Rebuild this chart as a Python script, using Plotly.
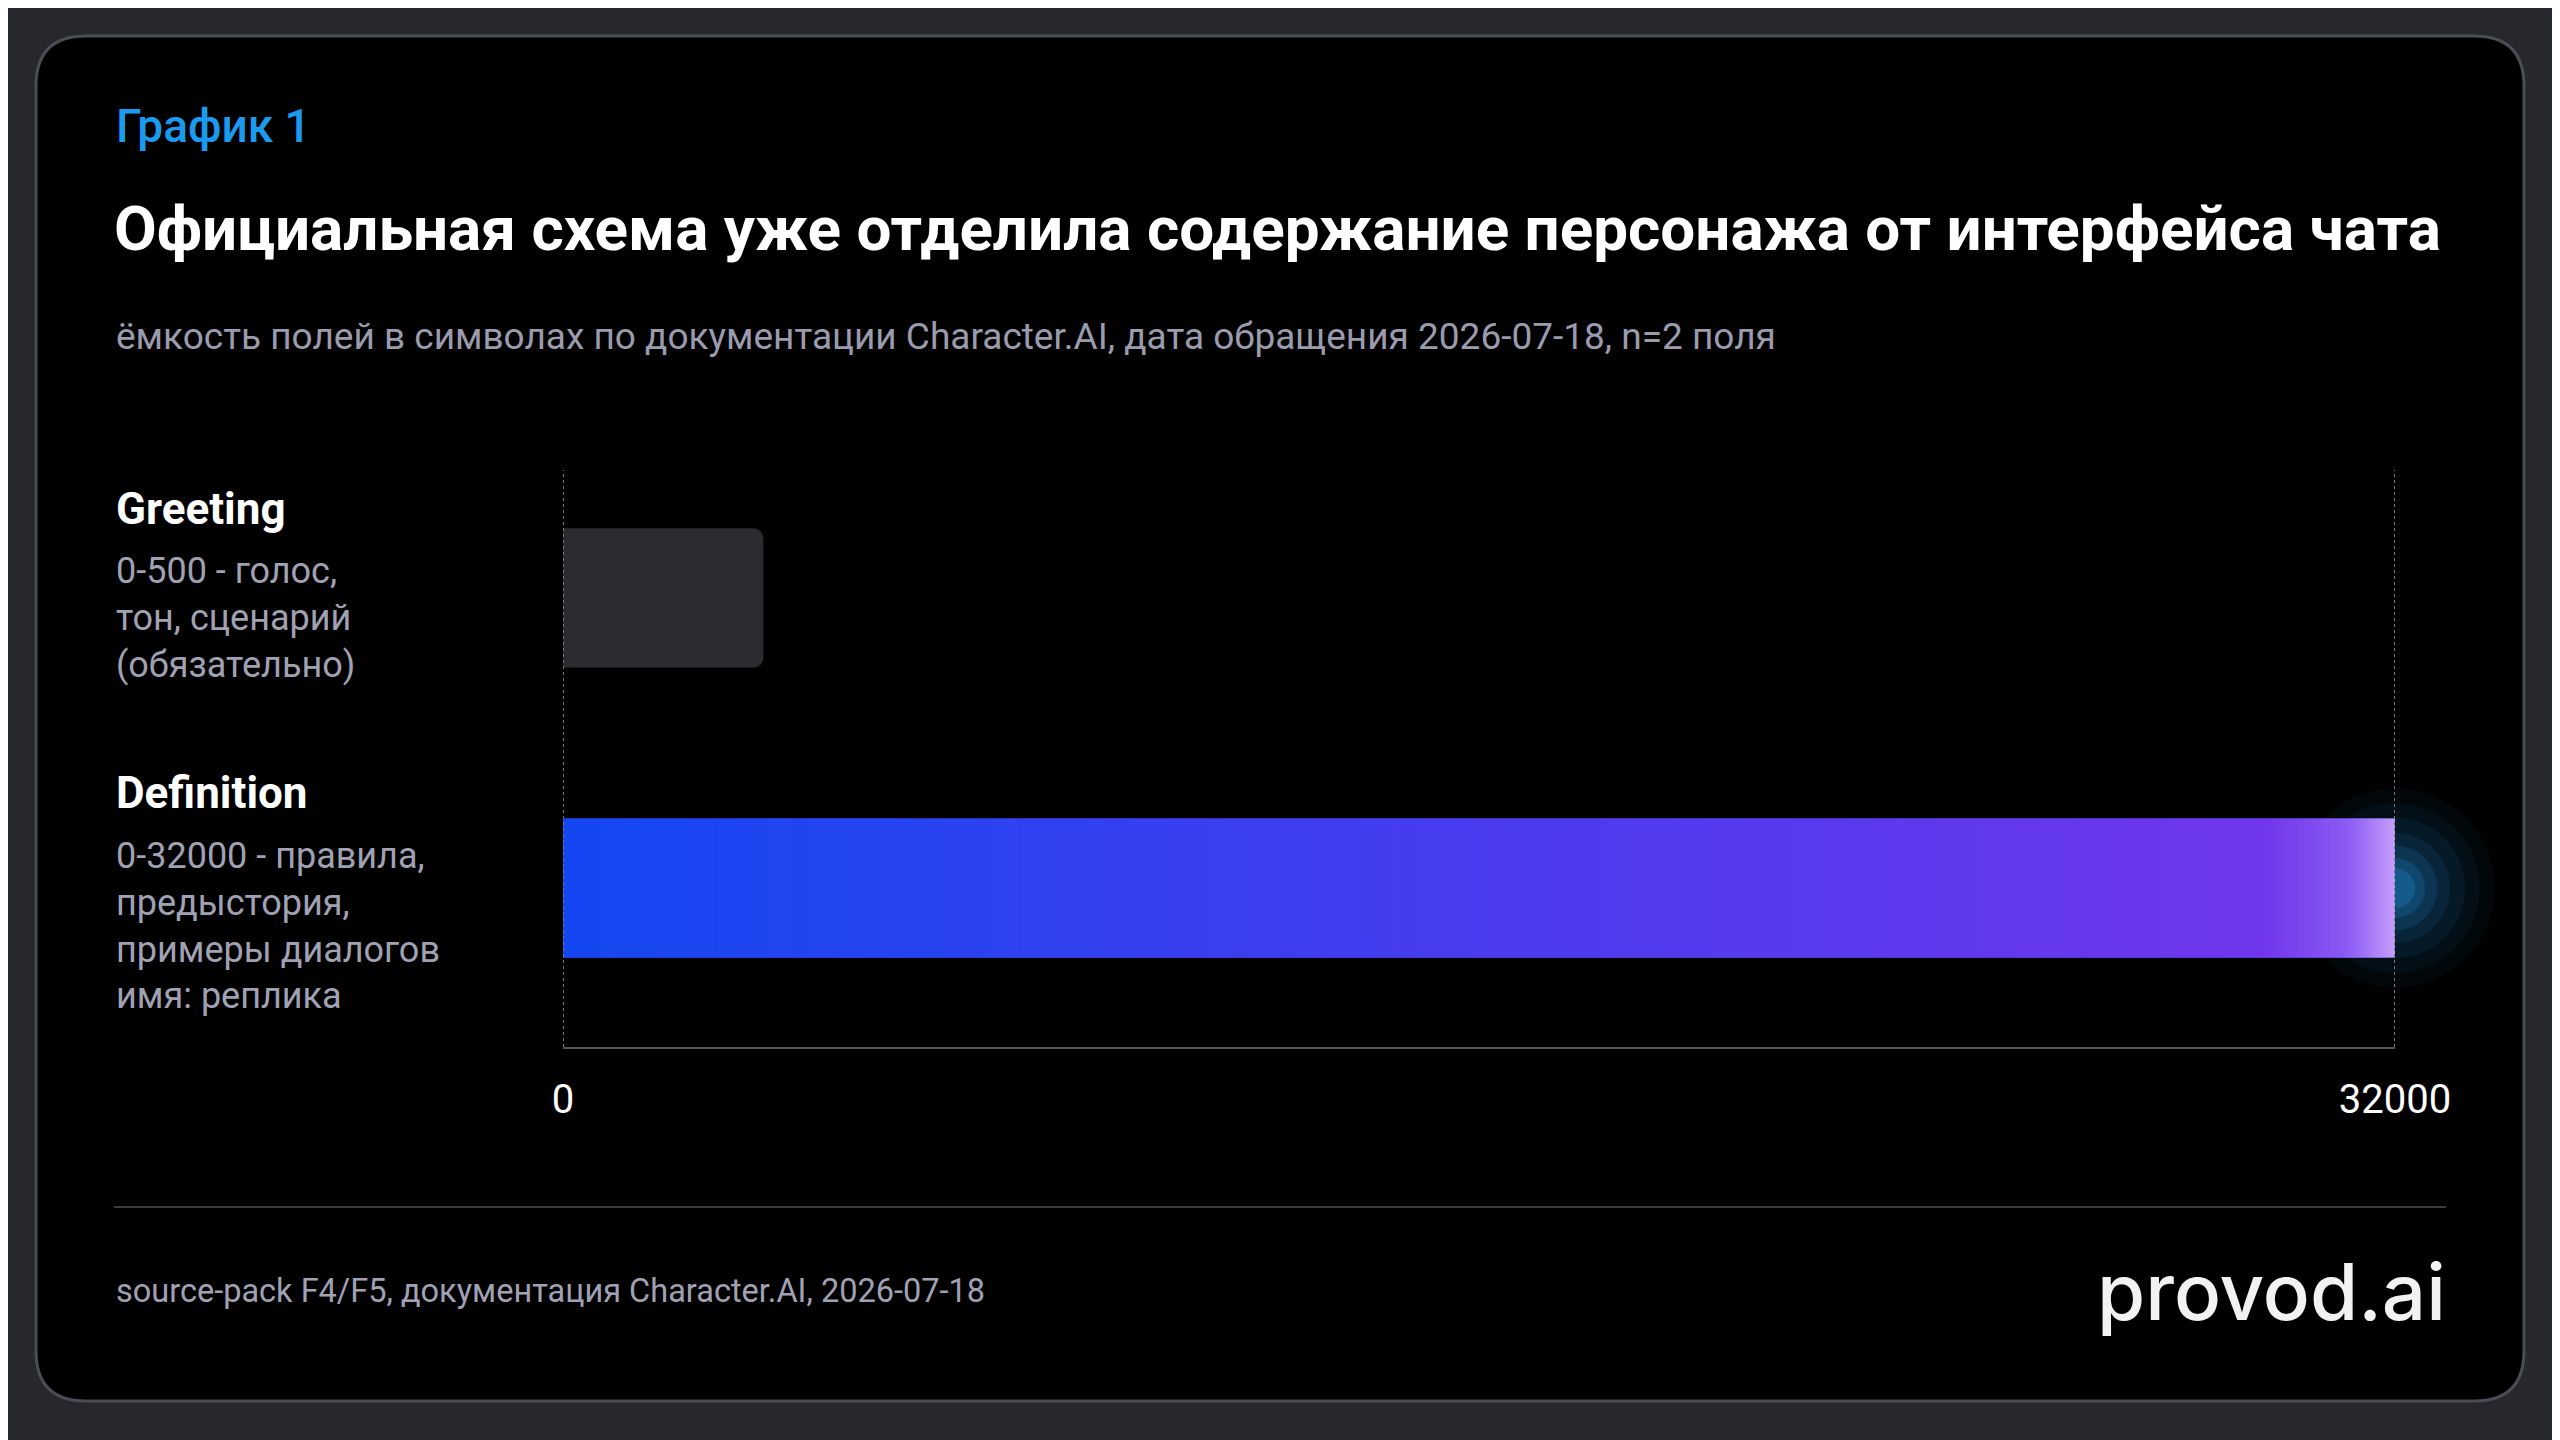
import plotly.graph_objects as go
import numpy as np, zlib, struct, base64, re

# ---- data ----
fields = ["Greeting", "Definition"]
capacity_max = [500, 32000]          # documented upper limits
bar_length = [3500, 32000]           # drawn bar lengths
descriptions = ["0-500 - голос,<br>тон, сценарий<br>(обязательно)",
                "0-32000 - правила,<br>предыстория,<br>примеры диалогов<br>имя: реплика"]
y_pos = [1, 0]
tick_vals = [0, 32000]
tick_text = ["0", "32000"]

OFF = 8  # page body margin compensation
W, H = 2560, 1440
L, R, T, B = 563 - OFF, 165 + OFF, 470 - OFF, 393 + OFF
pw, ph = W - L - R, H - T - B
def px(x): return (x - OFF - L) / pw
def py(y): return 1 - (y - OFF - T) / ph

def png_gradient(stops, width=512):
    xs = np.linspace(0, 1, width)
    pos = [s[0] for s in stops]
    cols = np.array([s[1] for s in stops], float)
    row = np.stack([np.interp(xs, pos, cols[:, i]) for i in range(3)], 1).astype(np.uint8)
    raw = b"\x00" + row.tobytes()
    def chunk(t, d):
        c = struct.pack(">I", len(d)) + t + d
        return c + struct.pack(">I", zlib.crc32(t + d) & 0xffffffff)
    png = b"\x89PNG\r\n\x1a\n" + chunk(b"IHDR", struct.pack(">IIBBBBB", width, 1, 8, 2, 0, 0, 0)) \
        + chunk(b"IDAT", zlib.compress(raw)) + chunk(b"IEND", b"")
    return "data:image/png;base64," + base64.b64encode(png).decode()

grad = png_gradient([(0, (20, 72, 242)), (0.5, (74, 60, 240)), (0.93, (112, 56, 236)),
                     (0.975, (140, 92, 244)), (1, (196, 156, 250))])

fig = go.Figure()
fig.add_trace(go.Bar(x=[bar_length[0]], y=[y_pos[0]], orientation="h", width=0.48,
                     marker=dict(color="#2b2c30", line=dict(width=0)), hoverinfo="skip"))
fig.add_trace(go.Bar(x=[bar_length[1]], y=[y_pos[1]], orientation="h", width=0.48,
                     marker=dict(color="#4a3cf0", line=dict(width=0)), hoverinfo="skip"))
for s, o in [(200, 0.04), (170, 0.05), (140, 0.07), (110, 0.09), (85, 0.12), (60, 0.16), (40, 0.2)]:
    fig.add_trace(go.Scatter(x=[bar_length[1]], y=[y_pos[1]], mode="markers",
                             marker=dict(size=s, color=f"rgba(40,170,255,{o})", line=dict(width=0)),
                             hoverinfo="skip", cliponaxis=False))

fig.add_layout_image(dict(source=grad, xref="x", yref="y", x=0, y=y_pos[1] + 0.24,
                          sizex=bar_length[1], sizey=0.48, sizing="stretch", layer="above"))

shapes = []
r = 50; x0, y0, x1, y1 = 36, 36, 2524, 1401
path = (f"M {x0+r},{y0} L {x1-r},{y0} Q {x1},{y0} {x1},{y0+r} L {x1},{y1-r} Q {x1},{y1} {x1-r},{y1} "
        f"L {x0+r},{y1} Q {x0},{y1} {x0},{y1-r} L {x0},{y0+r} Q {x0},{y0} {x0+r},{y0} Z")
def conv(m):
    return f"{px(float(m.group(1))):.5f},{py(float(m.group(2))):.5f}"
path_p = re.sub(r"([\d.]+),([\d.]+)", conv, path)
shapes.append(dict(type="path", path=path_p, xref="paper", yref="paper", fillcolor="#000000",
                   line=dict(color="#4a4d55", width=3), layer="below"))
for tv in tick_vals:
    shapes.append(dict(type="line", xref="x", yref="paper", x0=tv, x1=tv, y0=0, y1=1,
                       line=dict(color="#777", width=2, dash="dot")))
shapes.append(dict(type="line", xref="paper", yref="paper", x0=px(114), x1=px(2446),
                   y0=py(1207), y1=py(1207), line=dict(color="#3a3b40", width=2)))

ann = []
def txt(x, y, s, size, color, weight=400, xa="left", font="Roboto"):
    ann.append(dict(x=px(x), y=py(y), xref="paper", yref="paper", text=s, showarrow=False,
                    xanchor=xa, yanchor="middle", align=xa,
                    font=dict(family=font, size=size, color=color, weight=weight)))
txt(114, 126, "График 1", 46, "#1a9bf0", 500)
txt(112, 229, "Официальная схема уже отделила содержание персонажа от интерфейса чата", 62, "#ffffff", 700)
txt(114, 336, "ёмкость полей в символах по документации Character.AI, дата обращения 2026-07-18, n=2 поля", 37, "#9a9cae")
txt(114, 509, fields[0], 44, "#ffffff", 700)
txt(114, 618, descriptions[0], 36, "#a0a2b4")
txt(114, 793, fields[1], 44, "#ffffff", 700)
txt(114, 926, descriptions[1], 36, "#a0a2b4")
txt(114, 1291, "source-pack F4/F5, документация Character.AI, 2026-07-18", 32.5, "#a0a2b4")
txt(2448, 1291, "provod.ai", 78, "#f2f2f2", 500, "right", "Inter")

fig.update_layout(
    width=W, height=H, margin=dict(l=L, r=R, t=T, b=B),
    paper_bgcolor="#26282d", plot_bgcolor="rgba(0,0,0,0)",
    showlegend=False, barmode="overlay", barcornerradius=10,
    shapes=shapes, annotations=ann,
    xaxis=dict(range=[0, 32000], tickvals=tick_vals, ticktext=tick_text, showgrid=False,
               zeroline=False, showline=True, linecolor="#555", linewidth=2, ticks="",
               tickfont=dict(family="Roboto", size=40, color="#ffffff"), ticklabelstandoff=16),
    yaxis=dict(range=[-0.548, 1.441], showticklabels=False, showgrid=False, zeroline=False),
)
fig.write_html("out.html")
